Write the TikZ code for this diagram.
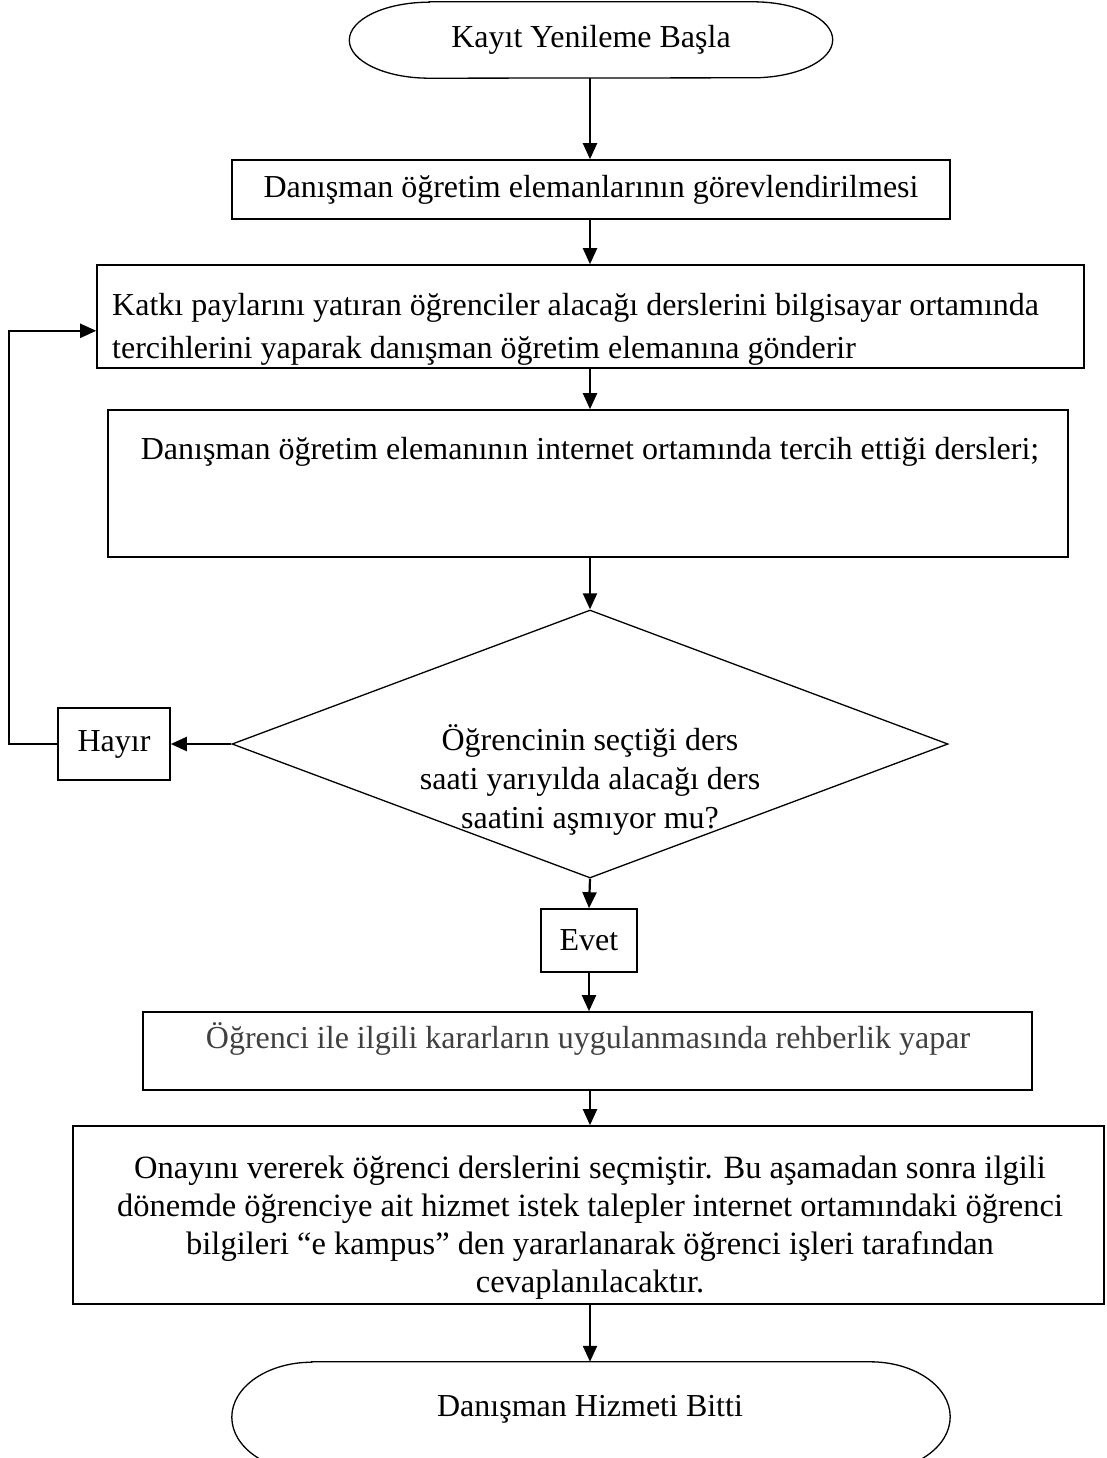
\documentclass[tikz,border=0pt]{standalone}
\usepackage{fontspec}
\setmainfont{Liberation Serif}
\usetikzlibrary{shapes.geometric,arrows.meta}
\definecolor{txtgray}{RGB}{64,64,64}
\begin{document}
\begin{tikzpicture}[x=1pt,y=-1pt,
  box/.style={draw, line width=1.6pt, inner sep=0pt},
  arr/.style={line width=2.2pt, -{Triangle[length=16pt,width=14pt]}},
  txt/.style={font=\fontsize{32}{39}\selectfont, inner sep=0pt, align=center},
  term/.style={line width=1.3pt},
]
\useasboundingbox (0,0) rectangle (1106,1458);
\clip (0,0) rectangle (1106,1458);

% start terminator
\node[txt, minimum width=483pt, minimum height=76pt] (start) at (591,40) {Kayıt Yenileme Başla};
\draw[term] ([xshift=80pt]start.north west) -- ([xshift=-80pt]start.north east)
  arc[start angle=90,end angle=-90,x radius=80pt,y radius=38pt]
  -- ([xshift=80pt]start.south west)
  arc[start angle=270,end angle=90,x radius=80pt,y radius=38pt] -- cycle;

\node[box, txt, minimum width=718pt, minimum height=59pt] (b1) at (591,189.5) {Danışman öğretim elemanlarının görevlendirilmesi};

\node[box, minimum width=987pt, minimum height=103pt] (b2) at (590.5,316.5) {};
\node[txt, align=left, anchor=west, font=\fontsize{32}{43}\selectfont] (b2t) at (112,329)
  {Katkı paylarını yatıran öğrenciler alacağı derslerini bilgisayar ortamında\\tercihlerini yaparak danışman öğretim elemanına gönderir};

\node[box, minimum width=960pt, minimum height=147pt] (b3) at (588,483.5) {};
\node[txt] (b3t) at (590,452) {Danışman öğretim elemanının internet ortamında tercih ettiği dersleri;};

\node[draw, line width=1.3pt, diamond, minimum width=716pt, minimum height=268pt, inner sep=0pt] (d) at (590,744) {};
\node[txt] (dt) at (590,780) {Öğrencinin seçtiği ders\\saati yarıyılda alacağı ders\\saatini aşmıyor mu?};

\node[box, txt, minimum width=112pt, minimum height=72pt] (h) at (114,744) {Hayır};
\node[box, txt, minimum width=96pt, minimum height=63pt] (e) at (589,940.5) {Evet};

\node[box, minimum width=889pt, minimum height=78pt] (b5) at (587.5,1051) {};
\node[txt, text=txtgray] (b5t) at (588,1039) {Öğrenci ile ilgili kararların uygulanmasında rehberlik yapar};

\node[box, minimum width=1031pt, minimum height=178pt] (b6) at (588.5,1215) {};
\node[txt, font=\fontsize{32.5}{38}\selectfont] (b6t) at (590,1228)
  {Onayını vererek öğrenci derslerini seçmiştir. Bu aşamadan sonra ilgili\\dönemde öğrenciye ait hizmet istek talepler internet ortamındaki öğrenci\\bilgileri “e kampus” den yararlanarak öğrenci işleri tarafından\\cevaplanılacaktır.};

% end terminator (partly off page)
\node[txt, minimum width=718pt, minimum height=110pt] (end) at (591,1417) {};
\node[txt] (endt) at (590,1409) {Danışman Hizmeti Bitti};
\draw[term] ([xshift=80pt]end.north west) -- ([xshift=-80pt]end.north east)
  arc[start angle=90,end angle=-90,x radius=80pt,y radius=55pt]
  -- ([xshift=80pt]end.south west)
  arc[start angle=270,end angle=90,x radius=80pt,y radius=55pt] -- cycle;

% connectors
\draw[arr] (start.south -| d.north) -- (b1.north -| d.north);
\draw[arr] (b1.south -| d.north) -- (b2.north -| d.north);
\draw[arr] (b2.south -| d.north) -- (b3.north -| d.north);
\draw[arr] (b3.south -| d.north) -- (d.north);
\draw[arr] (d.west) -- (h.east);
\draw[arr] (h.west) -- ++(-48,0) |- ([yshift=38pt]b2.south west);
\draw[arr] (d.south) -- (e.north);
\draw[arr] (e.south) -- (e.south |- b5.north);
\draw[arr] (b5.south -| d.south) -- (b6.north -| d.south);
\draw[arr] (b6.south -| d.south) -- (end.north -| d.south);
\end{tikzpicture}
\end{document}
